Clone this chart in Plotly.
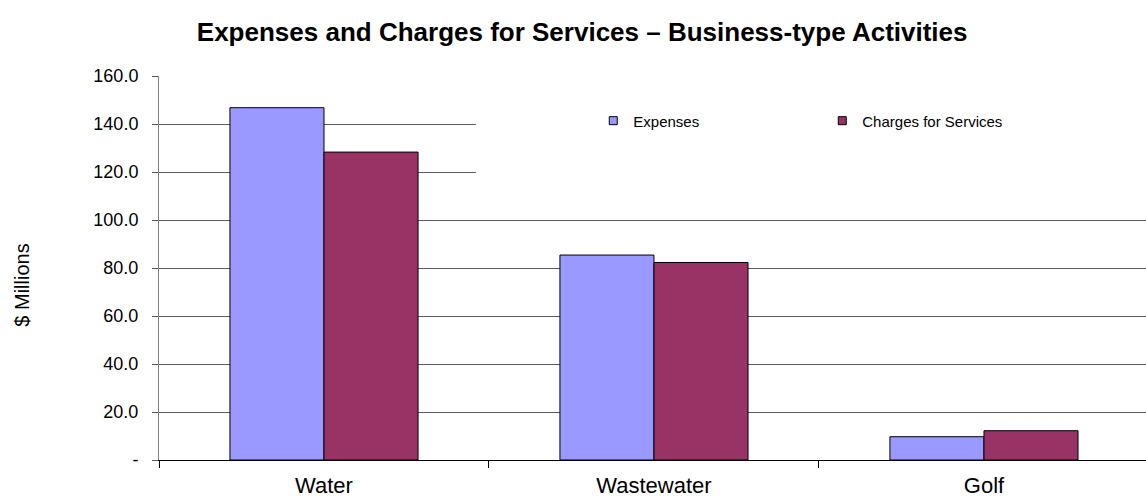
import plotly.graph_objects as go

# Business-type activities, $ millions
categories = ["Water", "Wastewater", "Golf"]
expenses = [146.8, 85.4, 9.7]
charges = [128.3, 82.3, 12.2]

y_ticks = [0, 20, 40, 60, 80, 100, 120, 140, 160]
y_tick_text = ["-"] + [f"{v:.1f}" for v in y_ticks[1:]]

FONT = "Arial, 'Liberation Sans', sans-serif"
EXP_COLOR = "#9999FF"
CHG_COLOR = "#993366"

fig = go.Figure()

fig.add_trace(go.Bar(
    x=categories, y=expenses, name="Expenses",
    marker=dict(color=EXP_COLOR, line=dict(color="#000000", width=1)),
    showlegend=False,
))
fig.add_trace(go.Bar(
    x=categories, y=charges, name="Charges for Services",
    marker=dict(color=CHG_COLOR, line=dict(color="#000000", width=1)),
    showlegend=False,
))

# legend entries with small square swatches
for name, color in [("Expenses", EXP_COLOR), ("Charges for Services", CHG_COLOR)]:
    fig.add_trace(go.Scatter(
        x=[None], y=[None], mode="markers", name=name,
        marker=dict(symbol="square", size=8, color=color,
                    line=dict(color="#000000", width=1)),
    ))

fig.update_layout(
    width=1146, height=502,
    margin=dict(l=159, r=0, t=76, b=42),
    paper_bgcolor="#ffffff", plot_bgcolor="#ffffff",
    font=dict(family=FONT, color="#000000"),
    barmode="group", bargap=0.43, bargroupgap=0,
    title=dict(
        text="<b>Expenses and Charges for Services – Business-type Activities</b>",
        font=dict(family=FONT, size=26, color="#000000"),
        x=0.508, xref="container", xanchor="center",
        y=0.936, yref="container", yanchor="middle",
    ),
    legend=dict(
        orientation="h", x=0.44, xanchor="left", y=0.883, yanchor="middle",
        font=dict(family=FONT, size=15, color="#000000"),
        bgcolor="rgba(0,0,0,0)", entrywidth=184, entrywidthmode="pixels",
        itemclick=False, itemdoubleclick=False,
    ),
    showlegend=True,
)

fig.update_xaxes(
    range=[-0.5, 2.491], showgrid=False, showline=True, linecolor="#000000",
    linewidth=1, ticks="outside", tickson="boundaries", ticklen=7,
    tickcolor="#000000", tickfont=dict(family=FONT, size=22, color="#000000"),
    ticklabelstandoff=6, zeroline=False, fixedrange=True,
)
fig.update_yaxes(
    range=[0, 160], tickvals=y_ticks, ticktext=y_tick_text,
    showgrid=True, gridcolor="#5a5a5a", gridwidth=1,
    showline=True, linecolor="#808080", linewidth=1,
    ticks="outside", ticklen=6, tickcolor="#5a5a5a",
    tickfont=dict(family=FONT, size=18, color="#000000"),
    ticklabelstandoff=10, zeroline=False, fixedrange=True,
)

# white panel behind the legend, interrupting the upper gridlines
fig.add_shape(
    type="rect", xref="paper", yref="paper",
    x0=0.321, x1=1.01, y0=0.69, y1=1.05,
    fillcolor="#ffffff", line=dict(width=0), layer="above",
)

fig.add_annotation(
    text="$ Millions", textangle=-90, showarrow=False,
    xref="paper", yref="paper", x=-0.139, y=0.456,
    xanchor="center", yanchor="middle",
    font=dict(family=FONT, size=20, color="#000000"),
)

fig.write_html("out.html", config={"displayModeBar": False})
